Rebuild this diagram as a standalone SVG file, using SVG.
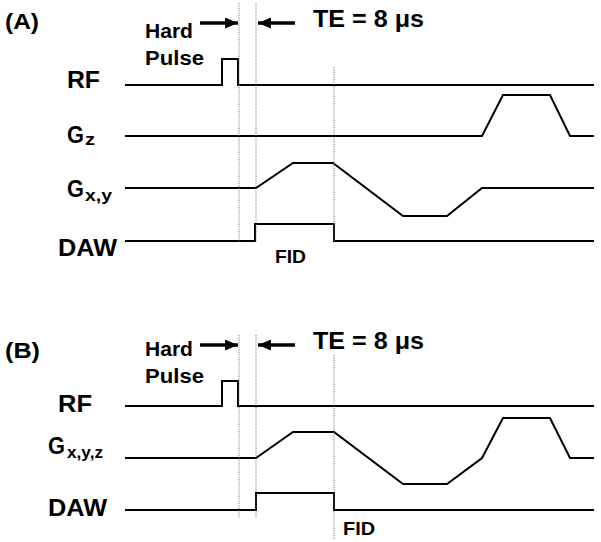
<svg xmlns="http://www.w3.org/2000/svg" width="601" height="542" viewBox="0 0 601 542">
<defs>
<style>
text{font-family:"Liberation Sans",Arial,sans-serif;font-weight:bold;fill:#000}
.lab{font-size:24px}
.hp{font-size:19.5px}
.te{font-size:23px}
.sub{font-size:17px}
.fid{font-size:18px}
.pan{font-size:22px}
.wave{fill:none;stroke:#000;stroke-width:2}
.dot{fill:none;stroke:#666;stroke-width:0.9;stroke-dasharray:1.2 1.2}
.arr{fill:none;stroke:#000;stroke-width:3.5}
</style>
<marker id="ah" viewBox="0 0 13 11" refX="13" refY="5.5" markerWidth="13" markerHeight="11" markerUnits="userSpaceOnUse" orient="auto">
<path d="M0,0 L13,5.5 L0,11 Z" fill="#000"/>
</marker>
</defs>
<rect width="601" height="542" fill="#fff"/>

<g id="panelA">
<text class="pan" x="5" y="29" textLength="34" lengthAdjust="spacingAndGlyphs">(A)</text>
<g id="A-hardpulse-label">
<text class="hp" x="145" y="38" textLength="48" lengthAdjust="spacingAndGlyphs">Hard</text>
<text class="hp" x="145" y="65" textLength="59" lengthAdjust="spacingAndGlyphs">Pulse</text>
</g>
<text id="A-te" class="te" x="313" y="27" textLength="111" lengthAdjust="spacingAndGlyphs">TE = 8 μs</text>
<g id="A-RF"><text class="lab" x="67" y="88" textLength="33" lengthAdjust="spacingAndGlyphs">RF</text>
<path class="wave" d="M125,85 H222 V59 H238 V85 H594"/></g>
<g id="A-Gz"><text class="lab" x="67" y="143" textLength="17" lengthAdjust="spacingAndGlyphs">G</text><text class="sub" x="85" y="145" textLength="10" lengthAdjust="spacingAndGlyphs">z</text>
<path class="wave" d="M125,136 H482 L503,95 H550 L570,136 H594"/></g>
<g id="A-Gxy"><text class="lab" x="67" y="197" textLength="17" lengthAdjust="spacingAndGlyphs">G</text><text class="sub" x="85" y="201" textLength="27" lengthAdjust="spacingAndGlyphs">x,y</text>
<path class="wave" d="M125,188 H256 L293,163 H333 L403,216 H447 L482,188 H594"/></g>
<g id="A-DAW"><text class="lab" x="58" y="256" textLength="59" lengthAdjust="spacingAndGlyphs">DAW</text>
<path class="wave" d="M125,241 H255 V224 H334 V241 H594"/>
<text class="fid" x="275" y="263" textLength="31" lengthAdjust="spacingAndGlyphs">FID</text></g>
</g>

<g id="panelB">
<text class="pan" x="5" y="358" textLength="35" lengthAdjust="spacingAndGlyphs">(B)</text>
<g id="B-hardpulse-label">
<text class="hp" x="145" y="356" textLength="48" lengthAdjust="spacingAndGlyphs">Hard</text>
<text class="hp" x="145" y="383" textLength="59" lengthAdjust="spacingAndGlyphs">Pulse</text>
</g>
<text id="B-te" class="te" x="313" y="349" textLength="111" lengthAdjust="spacingAndGlyphs">TE = 8 μs</text>
<g id="B-RF"><text class="lab" x="58" y="412" textLength="34" lengthAdjust="spacingAndGlyphs">RF</text>
<path class="wave" d="M125,406 H222 V381 H238 V406 H594"/></g>
<g id="B-Gxyz"><text class="lab" x="48" y="454" textLength="17" lengthAdjust="spacingAndGlyphs">G</text><text class="sub" x="67" y="458" textLength="36" lengthAdjust="spacingAndGlyphs">x,y,z</text>
<path class="wave" d="M125,458 H256 L293,432 H334 L403,484 H447 L482,458 L503,418 H550 L570,458 H594"/></g>
<g id="B-DAW"><text class="lab" x="48" y="516" textLength="59" lengthAdjust="spacingAndGlyphs">DAW</text>
<path class="wave" d="M125,510 H256 V493 H334 V510 H594"/>
<text class="fid" x="343" y="535" textLength="32" lengthAdjust="spacingAndGlyphs">FID</text></g>
</g>

<g id="connectors">
<line class="dot" x1="239" y1="3" x2="239" y2="243"/>
<line class="dot" x1="256" y1="3" x2="256" y2="243"/>
<line class="dot" x1="334" y1="67" x2="334" y2="241"/>
<line class="arr" x1="200" y1="23" x2="238" y2="23" marker-end="url(#ah)"/>
<line class="arr" x1="295" y1="23" x2="258" y2="23" marker-end="url(#ah)"/>
<line class="dot" x1="239" y1="335" x2="239" y2="518"/>
<line class="dot" x1="256" y1="335" x2="256" y2="518"/>
<line class="dot" x1="334" y1="355" x2="334" y2="540"/>
<line class="arr" x1="200" y1="345" x2="238" y2="345" marker-end="url(#ah)"/>
<line class="arr" x1="295" y1="345" x2="258" y2="345" marker-end="url(#ah)"/>
</g>
</svg>
